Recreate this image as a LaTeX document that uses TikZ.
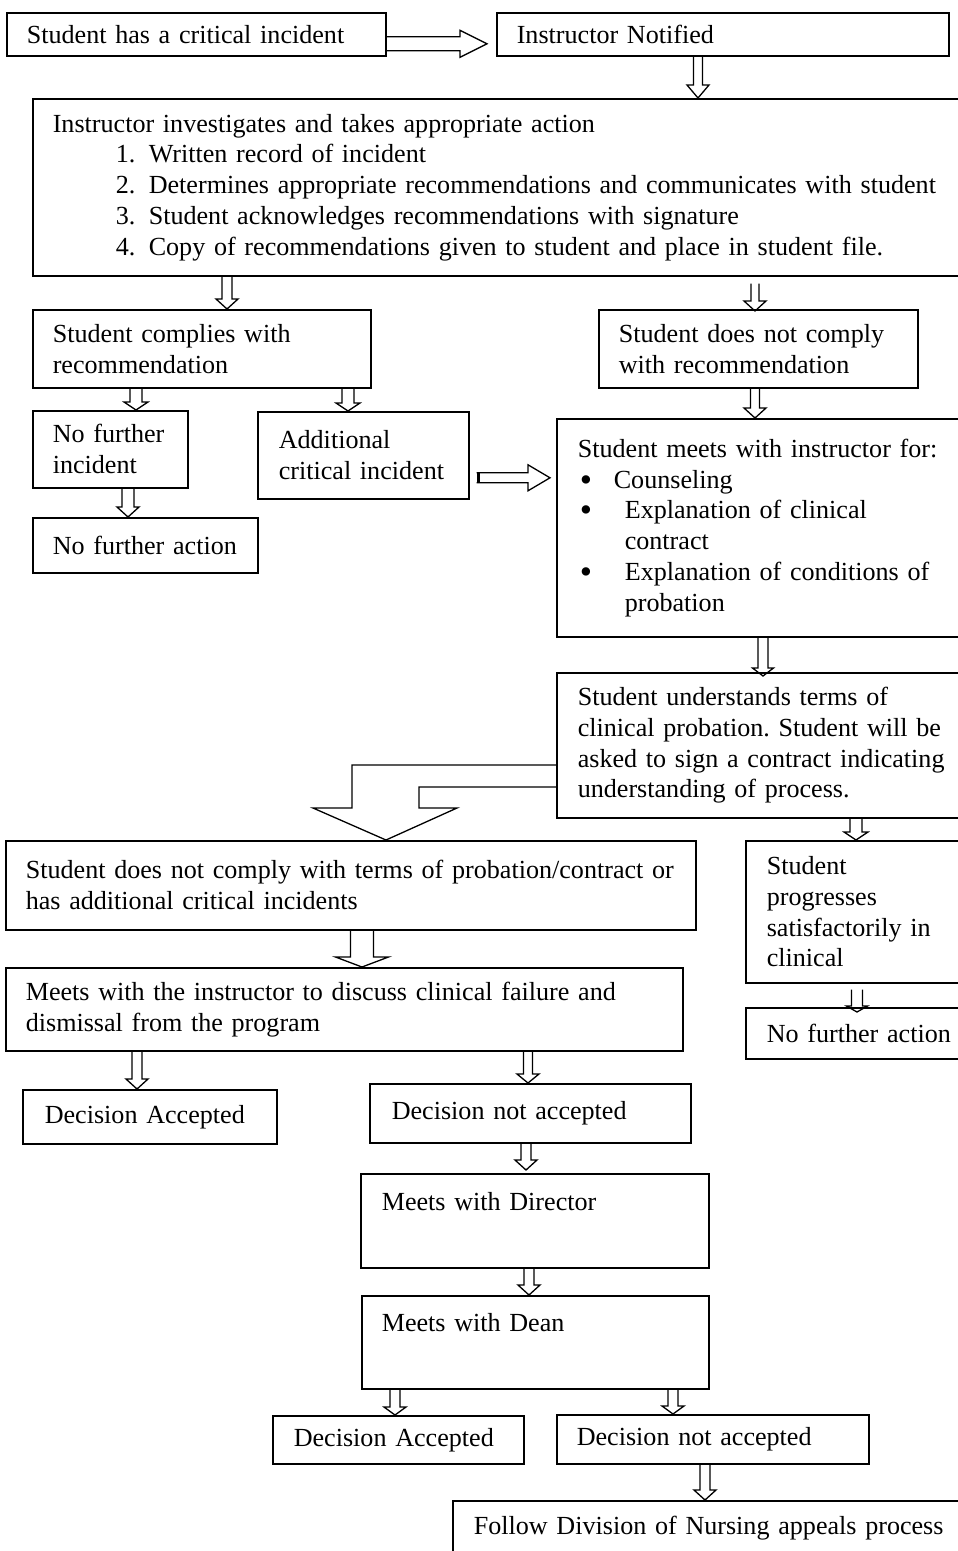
\documentclass[tikz,border=0pt]{standalone}
\usepackage{fontspec}
\setmainfont{Liberation Serif}
\usetikzlibrary{calc}
\newcommand{\boxfont}{\fontsize{26.1}{30.75}\selectfont\frenchspacing\hyphenpenalty=10000\relax}
\tikzstyle{flowbox}=[draw, line width=1.6pt, anchor=north west, inner ysep=0pt, font=\boxfont]
\tikzstyle{blockline}=[line width=1.3pt, line join=miter]
\newcommand{\bigdot}{\smash{\raisebox{-3pt}{\fontsize{35}{0}\selectfont\textbullet}}}
\newcommand{\dnarrow}[5]{%
  \draw[blockline] let \p1=#4, \p2=#5 in
    (\x1-#1pt,\y1) -- (\x1-#1pt,\y2+#3pt) -- (\x1-#2pt,\y2+#3pt) -- (\x1,\y2)
    -- (\x1+#2pt,\y2+#3pt) -- (\x1+#1pt,\y2+#3pt) -- (\x1+#1pt,\y1);}
\newcommand{\rtarrow}[5]{%
  \draw[blockline] let \p1=#4, \p2=#5 in
    (\x1,\y1+#1pt) -- (\x2-#3pt,\y1+#1pt) -- (\x2-#3pt,\y1+#2pt) -- (\x2,\y1)
    -- (\x2-#3pt,\y1-#2pt) -- (\x2-#3pt,\y1-#1pt) -- (\x1,\y1-#1pt);}
\begin{document}
\begin{tikzpicture}[x=1pt, y=-1pt]
      \useasboundingbox (0,0) rectangle (958,1551);

      \node[flowbox, inner xsep=20pt, text width=339pt, minimum height=43pt] (crit) at (6,12) {Student has a critical incident};
      \node[flowbox, inner xsep=20pt, text width=412pt, minimum height=43pt] (notified) at (496,12) {Instructor Notified};
      \node[flowbox, inner xsep=20pt, text width=908pt, minimum height=177pt] (invest) at (32,98) {Instructor investigates and takes appropriate action\\
        \hspace*{63pt}\makebox[33pt][l]{1.}Written record of incident\\
        \hspace*{63pt}\makebox[33pt][l]{2.}Determines appropriate recommendations and communicates with student\\
        \hspace*{63pt}\makebox[33pt][l]{3.}Student acknowledges recommendations with signature\\
        \hspace*{63pt}\makebox[33pt][l]{4.}Copy of recommendations given to student and place in student file.};
      \node[flowbox, inner xsep=20pt, text width=298pt, minimum height=78pt] (complies) at (32,309) {Student complies with\\recommendation};
      \node[flowbox, inner xsep=20pt, text width=279pt, minimum height=78pt] (notcomply) at (598,309) {Student does not comply\\with recommendation};
      \node[flowbox, inner xsep=20pt, text width=115pt, minimum height=77pt] (nofurther) at (32,410) {\mbox{No further}\\incident};
      \node[flowbox, inner xsep=21pt, text width=169pt, minimum height=87pt] (additional) at (257,411) {Additional\\\mbox{critical incident}};
      \node[flowbox, inner xsep=21pt, text width=382pt, minimum height=218pt] (meets) at (556,418) {Student meets with instructor for:\\
        \hspace*{2pt}\makebox[34pt][l]{\bigdot}Counseling\\
        \hspace*{2pt}\makebox[45pt][l]{\bigdot}Explanation of clinical\\
        \hspace*{47pt}contract\\
        \hspace*{2pt}\makebox[45pt][l]{\bigdot}Explanation of conditions of\\
        \hspace*{47pt}probation};
      \node[flowbox, inner xsep=20pt, text width=185pt, minimum height=55pt] (noaction1) at (32,517) {\mbox{No further action}};
      \node[flowbox, inner xsep=21pt, text width=382pt, minimum height=145pt] (understands) at (556,672) {Student understands terms of\\clinical probation. Student will be\\asked to sign a contract indicating\\understanding of process.};
      \node[flowbox, inner xsep=20pt, text width=650pt, minimum height=89pt] (notterms) at (5,840) {\mbox{Student does not comply with terms of probation/contract or}\\has additional critical incidents};
      \node[flowbox, inner xsep=21pt, text width=193pt, minimum height=142pt] (progresses) at (745,840) {Student\\progresses\\satisfactorily in\\clinical};
      \node[flowbox, inner xsep=20pt, text width=637pt, minimum height=83pt] (dismiss) at (5,967) {Meets with the instructor to discuss clinical failure and\\dismissal from the program};
      \node[flowbox, inner xsep=21pt, text width=193pt, minimum height=51pt] (noaction2) at (745,1007) {No further action};
      \node[flowbox, inner xsep=22pt, text width=210pt, minimum height=54pt] (accepted1) at (22,1089) {Decision Accepted};
      \node[flowbox, inner xsep=22pt, text width=277pt, minimum height=59pt] (notaccepted1) at (369,1083) {Decision not accepted};
      \node[flowbox, inner xsep=21pt, text width=306pt, text height=37pt, text depth=57pt] (director) at (360,1173) {Meets with Director};
      \node[flowbox, inner xsep=20pt, text width=307pt, text height=36pt, text depth=57pt] (dean) at (361,1295) {Meets with Dean};
      \node[flowbox, inner xsep=21pt, text width=209pt, minimum height=48pt] (accepted2) at (272,1415) {Decision Accepted};
      \node[flowbox, inner xsep=20pt, text width=272pt, minimum height=49pt] (notaccepted2) at (556,1414) {Decision not accepted};
      \node[flowbox, inner xsep=21pt, text width=486pt, minimum height=54pt] (appeals) at (452,1500) {Follow Division of Nursing appeals process};

      \rtarrow{7}{13.5}{27}{($(crit.east)+(0,9.5)$)}{($(notified.west)+(-9,9.5)$)}
      \dnarrow{4.5}{11}{13}{(698,0 |- notified.south)}{(698,0 |- invest.north)}
      \dnarrow{5}{11}{10}{(227,0 |- invest.south)}{(227,0 |- complies.north)}
      \dnarrow{4}{11}{10}{($(755,0 |- invest.south)+(0,7)$)}{($(755,0 |- notcomply.north)+(0,2)$)}
      \dnarrow{6}{12}{8}{(136,0 |- complies.south)}{(136,0 |- nofurther.north)}
      \dnarrow{6}{12}{8}{(348,0 |- complies.south)}{(348,0 |- additional.north)}
      \dnarrow{4.5}{11}{10}{(755,0 |- notcomply.south)}{(755,0 |- meets.north)}
      \dnarrow{6}{11}{10}{(128,0 |- nofurther.south)}{(128,0 |- noaction1.north)}
      \rtarrow{5}{13}{22}{($(additional.east)+(7,22.5)$)}{($(meets.west)+(-6,0)$)}
      \fill ($(additional.east)+(7,17.5)$) rectangle ++(3,10);
      \dnarrow{5}{10.5}{8}{(763,0 |- meets.south)}{($(763,0 |- understands.north)+(0,4)$)}
      \draw[blockline] (understands.west |- 0,765) -- (352,765) -- (352,808) -- (313,808)
        -- (386,0 |- notterms.north) -- (457,808) -- (419,808) -- (419,787) -- (understands.west |- 0,787);
      \dnarrow{6}{12}{8}{(856,0 |- understands.south)}{(856,0 |- progresses.north)}
      \dnarrow{11.5}{26.5}{10}{(362,0 |- notterms.south)}{(362,0 |- dismiss.north)}
      \dnarrow{5.5}{10.5}{6}{($(857,0 |- progresses.south)+(0,6)$)}{($(857,0 |- noaction2.north)+(0,5)$)}
      \dnarrow{5}{11}{10}{(137,0 |- dismiss.south)}{(137,0 |- accepted1.north)}
      \dnarrow{4.5}{11}{9}{(528,0 |- dismiss.south)}{(528,0 |- notaccepted1.north)}
      \dnarrow{5}{11}{10}{(526,0 |- notaccepted1.south)}{($(526,0 |- director.north)+(0,-3)$)}
      \dnarrow{5}{11}{10}{(529,0 |- director.south)}{(529,0 |- dean.north)}
      \dnarrow{5}{11}{8}{(395,0 |- dean.south)}{(395,0 |- accepted2.north)}
      \dnarrow{5}{11}{8}{(673,0 |- dean.south)}{(673,0 |- notaccepted2.north)}
      \dnarrow{5}{11}{10}{(705,0 |- notaccepted2.south)}{(705,0 |- appeals.north)}
    \end{tikzpicture}
\end{document}
